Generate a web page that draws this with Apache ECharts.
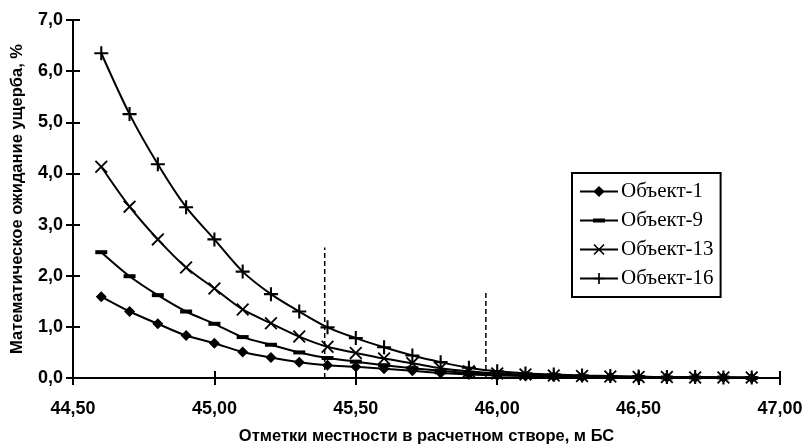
<!DOCTYPE html>
<html>
<head>
<meta charset="utf-8">
<script src="https://cdn.jsdelivr.net/npm/echarts@6/dist/echarts.min.js"></script>
<style>
  html, body { margin: 0; padding: 0; background: #fff; }
  #chart { width: 805px; height: 448px; }
</style>
</head>
<body>
<div id="chart"></div>
<script>
// отметки местности, м БС
var marks = [44.6, 44.7, 44.8, 44.9, 45.0, 45.1, 45.2, 45.3, 45.4, 45.5, 45.6, 45.7,
  45.8, 45.9, 46.0, 46.1, 46.2, 46.3, 46.4, 46.5, 46.6, 46.7, 46.8, 46.9];

var obj1 = [1.59, 1.30, 1.06, 0.83, 0.68, 0.51, 0.40, 0.31, 0.25, 0.22, 0.18, 0.14,
  0.10, 0.07, 0.05, 0.04, 0.03, 0.02, 0.02, 0.01, 0.01, 0.01, 0.01, 0.00];
var obj9 = [2.46, 1.99, 1.62, 1.30, 1.06, 0.80, 0.65, 0.50, 0.39, 0.32, 0.25, 0.19,
  0.14, 0.10, 0.07, 0.05, 0.04, 0.03, 0.02, 0.02, 0.01, 0.01, 0.01, 0.00];
var obj13 = [4.13, 3.35, 2.71, 2.16, 1.75, 1.34, 1.07, 0.81, 0.61, 0.49, 0.38, 0.29,
  0.19, 0.13, 0.09, 0.07, 0.05, 0.04, 0.03, 0.02, 0.02, 0.01, 0.01, 0.01];
var obj16 = [6.35, 5.16, 4.18, 3.34, 2.71, 2.08, 1.64, 1.30, 0.99, 0.78, 0.60, 0.44,
  0.31, 0.20, 0.13, 0.09, 0.07, 0.05, 0.04, 0.03, 0.02, 0.02, 0.01, 0.01];

// вертикальные пунктирные линии
var cut1 = [[45.39, 0], [45.39, 2.55]];
var cut2 = [[45.96, 0], [45.96, 1.68]];

var names = ['Объект-1', 'Объект-9', 'Объект-13', 'Объект-16'];

var plusPath = 'path://M8.5,0 H11.5 V8.5 H20 V11.5 H11.5 V20 H8.5 V11.5 H0 V8.5 H8.5 Z';
var crossPath = 'path://M0,2 L2,0 L10,8 L18,0 L20,2 L12,10 L20,18 L18,20 L10,12 L2,20 L0,18 L8,10 Z';
var dashPath = 'path://M0,0 H12 V4 H0 Z';
// значок легенды для Объекта-9: линия с утолщением посередине
var dashLegend = 'path://M0,1 H38 V3 H0 Z M13,0 H25 V4 H13 Z';

function pairs(xs, ys) {
  return xs.map(function (x, i) { return [x, ys[i]]; });
}

function lineSeries(name, values, symbol, size) {
  return {
    name: name,
    type: 'line',
    data: pairs(marks, values),
    smooth: 0.3,
    symbol: symbol,
    symbolSize: size,
    symbolKeepAspect: true,
    showAllSymbol: true,
    lineStyle: { color: '#000', width: 2 },
    itemStyle: { color: '#000' },
    z: 3
  };
}

function cutSeries(pts) {
  return {
    type: 'line',
    data: pts,
    symbol: 'none',
    silent: true,
    lineStyle: { color: '#000', width: 1.5, type: [5, 3] },
    z: 2
  };
}

var labelFont = { color: '#000', fontFamily: 'Liberation Sans', fontWeight: 'bold', fontSize: 18 };
var nameFont = { color: '#000', fontFamily: 'Liberation Sans', fontWeight: 'bold', fontSize: 16.5 };

var chart = echarts.init(document.getElementById('chart'), null, { renderer: 'canvas' });

var option = {
  backgroundColor: '#fff',
  animation: false,
  grid: { left: 73, right: 25, top: 20, bottom: 70, outerBoundsMode: 'none', containLabel: false },
  legend: {
    data: [names[0], { name: names[1], icon: dashLegend }, names[2], names[3]],
    orient: 'vertical',
    left: 572,
    top: 173,
    itemWidth: 38,
    itemHeight: 14,
    itemGap: 8,
    padding: [8, 7],
    borderColor: '#000',
    borderWidth: 2,
    textStyle: { color: '#000', fontFamily: 'Liberation Serif', fontSize: 21, padding: [0, 0, 0, -2] }
  },
  xAxis: [{
    type: 'value',
    min: 44.5,
    max: 47.0,
    interval: 0.5,
    name: 'Отметки местности в расчетном створе, м БС',
    nameLocation: 'middle',
    nameGap: 50,
    nameTextStyle: nameFont,
    axisLine: { lineStyle: { color: '#000', width: 2 } },
    axisTick: { length: 7, lineStyle: { color: '#000', width: 2 } },
    axisLabel: Object.assign({ margin: 22, formatter: function (v) { return v.toFixed(2).replace('.', ','); } }, labelFont),
    splitLine: { show: false }
  }, {
    type: 'value',
    position: 'bottom',
    min: 44.5,
    max: 47.0,
    interval: 0.5,
    axisLine: { show: false },
    axisTick: { inside: true, length: 7, lineStyle: { color: '#000', width: 2 } },
    axisLabel: { show: false },
    splitLine: { show: false }
  }],
  yAxis: [{
    type: 'value',
    min: 0,
    max: 7,
    interval: 1,
    name: 'Математическое ожидание ущерба, %',
    nameLocation: 'middle',
    nameRotate: 90,
    nameGap: 47,
    nameTextStyle: nameFont,
    axisLine: { show: true, lineStyle: { color: '#000', width: 2 } },
    axisTick: { show: true, length: 7, lineStyle: { color: '#000', width: 2 } },
    axisLabel: Object.assign({ margin: 10, formatter: function (v) { return v.toFixed(1).replace('.', ','); } }, labelFont),
    splitLine: { show: false }
  }, {
    type: 'value',
    position: 'left',
    min: 0,
    max: 7,
    interval: 1,
    axisLine: { show: false },
    axisTick: { show: true, inside: true, length: 7, lineStyle: { color: '#000', width: 2 } },
    axisLabel: { show: false },
    splitLine: { show: false }
  }],
  series: [
    lineSeries(names[0], obj1, 'diamond', 11),
    lineSeries(names[1], obj9, dashPath, 12),
    lineSeries(names[2], obj13, crossPath, 13),
    lineSeries(names[3], obj16, plusPath, 14),
    cutSeries(cut1),
    cutSeries(cut2)
  ]
};

chart.setOption(option);
</script>
</body>
</html>
